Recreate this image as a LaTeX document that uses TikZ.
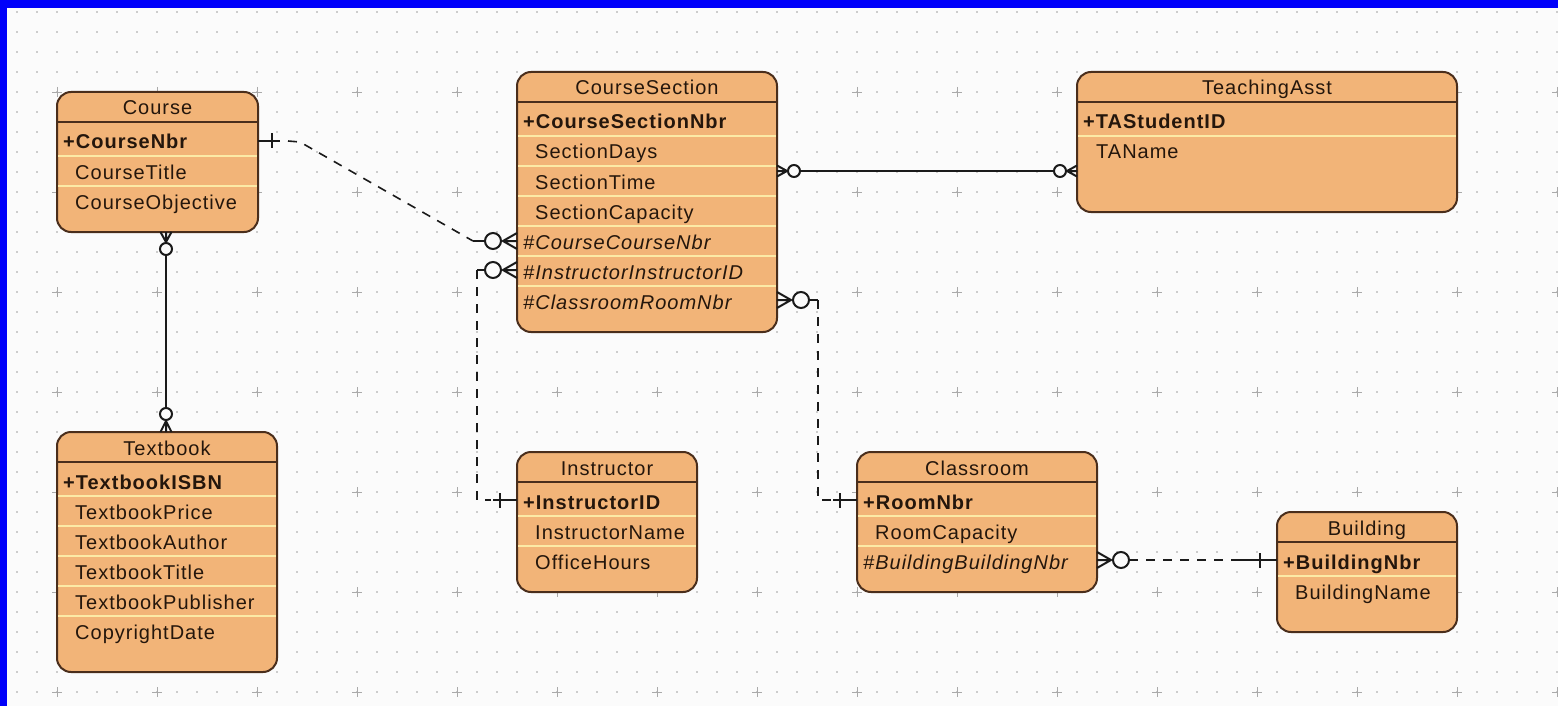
\documentclass[tikz,border=0pt]{standalone}
\usepackage{fontspec}
\setmainfont{Liberation Sans}
\newfontfamily\erfont[LetterSpace=5]{Liberation Sans}
\usetikzlibrary{calc}

\definecolor{efill}{HTML}{F2B478}
\definecolor{ebrd}{HTML}{4A2E1C}
\definecolor{esep}{HTML}{FCEAA6}
\definecolor{etext}{HTML}{24160C}
\definecolor{frameblue}{HTML}{0000FA}
\definecolor{paper}{HTML}{FBFBFB}
\definecolor{gdot}{HTML}{CCCCCC}
\definecolor{gplus}{HTML}{AAAAAA}
\definecolor{lnk}{HTML}{1A1A1A}

% entity box: name, x, y, width, height, title, number of rows
\newcommand\ERentity[7]{%
  \node[entity, minimum width=#4, minimum height=#5] (#1) at (#2,#3) {};
  \foreach \i in {2,...,#7}
    \draw[sepline] ($(#1.north west)+(1,4+30*\i)$) -- ($(#1.north east)+(-1,4+30*\i)$);
  \draw[hdrline] ($(#1.north west)+(0,30)$) -- ($(#1.north east)+(0,30)$);
  \node[ttl] (#1-title) at ($(#1.north)+(0,23)$) {#6};
}
% zero-or-many end: edge point, outward angle, apex distance, half spread, circle distance, radius
\newcommand\ERzm[6]{%
  \begin{scope}[shift={(#1)},rotate=#2]
    \draw[erfoot] (0,#4) -- (#3,0) -- (0,-#4) (0,0) -- (#3,0);
    \draw[erfoot,fill=paper] (#5,0) circle[radius=#6];
  \end{scope}}
% exactly-one end: edge point, outward angle, tick distance
\newcommand\ERone[3]{%
  \begin{scope}[shift={(#1)},rotate=#2]
    \draw[erfoot] (#3,-7.5) -- (#3,7.5);
  \end{scope}}

\begin{document}
\begin{tikzpicture}[x=1pt,y=-1pt,
  entity/.style={draw=ebrd, line width=2pt, fill=efill, rounded corners=14pt,
    inner sep=0pt, outer sep=0pt, anchor=north west},
  hdrline/.style={draw=ebrd, line width=2pt},
  sepline/.style={draw=esep, line width=1.6pt},
  ttl/.style={anchor=base, inner sep=0pt, text=etext,
    font=\erfont\fontsize{20}{24}\selectfont},
  attt/.style={ttl, anchor=base west},
  keyt/.style={ttl, anchor=base west, font=\erfont\bfseries\fontsize{20}{24}\selectfont},
  fkt/.style={ttl, anchor=base west, font=\erfont\itshape\fontsize{20}{24}\selectfont},
  erline/.style={draw=lnk, line width=1.6pt},
  erfoot/.style={draw=lnk, line width=2pt},
  dashc/.style={dash pattern=on 9pt off 8pt},
  gdots/.style={draw=gdot, line width=1.5pt, dash pattern=on 1.5pt off 18.5pt},
  gplusmark/.style={draw=gplus, line width=0.9pt}
]
\useasboundingbox (0,0) rectangle (1558,706);

% canvas: blue frame and dotted grid
\fill[frameblue] (0,0) rectangle (1558,706);
\fill[paper] (7,8) rectangle (1558,706);
\foreach \yy in {12,32,...,702}
  \draw[gdots] (16.25,\yy) -- (1558,\yy);
\foreach \xx in {57,157,...,1557}
  \foreach \yy in {92,192,...,692}
    \draw[gplusmark] (\xx-5,\yy) -- (\xx+5,\yy) (\xx,\yy-5) -- (\xx,\yy+5);

% entities
\ERentity{course}{57}{92}{201}{140}{Course}{3}
\node[keyt] (course-a1) at ($(course.north west)+(6,57)$) {+CourseNbr};
\node[attt] (course-a2) at ($(course.north west)+(18,87)$) {CourseTitle};
\node[attt] (course-a3) at ($(course.north west)+(18,117)$) {CourseObjective};

\ERentity{cs}{517}{72}{260}{260}{CourseSection}{7}
\node[keyt] (cs-a1) at ($(cs.north west)+(6,57)$) {+CourseSectionNbr};
\node[attt] (cs-a2) at ($(cs.north west)+(18,87)$) {SectionDays};
\node[attt] (cs-a3) at ($(cs.north west)+(18,117)$) {SectionTime};
\node[attt] (cs-a4) at ($(cs.north west)+(18,147)$) {SectionCapacity};
\node[fkt] (cs-a5) at ($(cs.north west)+(6,177)$) {\#CourseCourseNbr};
\node[fkt] (cs-a6) at ($(cs.north west)+(6,207)$) {\#InstructorInstructorID};
\node[fkt] (cs-a7) at ($(cs.north west)+(6,237)$) {\#ClassroomRoomNbr};

\ERentity{ta}{1077}{72}{380}{140}{TeachingAsst}{2}
\node[keyt] (ta-a1) at ($(ta.north west)+(6,57)$) {+TAStudentID};
\node[attt] (ta-a2) at ($(ta.north west)+(19,87)$) {TAName};

\ERentity{book}{57}{432}{220}{240}{Textbook}{6}
\node[keyt] (book-a1) at ($(book.north west)+(6,57)$) {+TextbookISBN};
\node[attt] (book-a2) at ($(book.north west)+(18,87)$) {TextbookPrice};
\node[attt] (book-a3) at ($(book.north west)+(18,117)$) {TextbookAuthor};
\node[attt] (book-a4) at ($(book.north west)+(18,147)$) {TextbookTitle};
\node[attt] (book-a5) at ($(book.north west)+(18,177)$) {TextbookPublisher};
\node[attt] (book-a6) at ($(book.north west)+(18,207)$) {CopyrightDate};

\ERentity{instr}{517}{452}{180}{140}{Instructor}{3}
\node[keyt] (instr-a1) at ($(instr.north west)+(6,57)$) {+InstructorID};
\node[attt] (instr-a2) at ($(instr.north west)+(18,87)$) {InstructorName};
\node[attt] (instr-a3) at ($(instr.north west)+(18,117)$) {OfficeHours};

\ERentity{room}{857}{452}{240}{140}{Classroom}{3}
\node[keyt] (room-a1) at ($(room.north west)+(6,57)$) {+RoomNbr};
\node[attt] (room-a2) at ($(room.north west)+(18,87)$) {RoomCapacity};
\node[fkt] (room-a3) at ($(room.north west)+(6,117)$) {\#BuildingBuildingNbr};

\ERentity{bldg}{1277}{512}{180}{120}{Building}{2}
\node[keyt] (bldg-a1) at ($(bldg.north west)+(6,57)$) {+BuildingNbr};
\node[attt] (bldg-a2) at ($(bldg.north west)+(18,87)$) {BuildingName};

% relationship end points on the entity borders
\coordinate (cA) at ($(course.north east)+(0,49)$);
\coordinate (cB) at ($(cs.north west)+(0,169)$);
\coordinate (cC) at ($(cs.north west)+(0,198)$);
\coordinate (cD) at ($(instr.north west)+(0,48)$);
\coordinate (cE) at ($(cs.north east)+(0,228)$);
\coordinate (cF) at ($(room.north west)+(0,48)$);
\coordinate (cG) at ($(cs.north east)+(0,99)$);
\coordinate (cH) at ($(ta.north west)+(0,99)$);
\coordinate (cI) at ($(course.south west)+(109,0)$);
\coordinate (cJ) at ($(book.north west)+(109,0)$);
\coordinate (cK) at ($(room.north east)+(0,108)$);
\coordinate (cL) at ($(bldg.north west)+(0,48)$);

% Course -- CourseSection
\draw[erline] (cA) -- ++(22,0);
\draw[erline,dashc] ($(cA)+(30,0)$) -- ($(cA)+(42,1)$) -- ($(cB)+(-44,0)$);
\draw[erline] ($(cB)+(-44,0)$) -- ($(cB)+(-32,0)$);
\ERone{cA}{0}{14}
\ERzm{cB}{180}{14}{8}{24}{8}

% Instructor -- CourseSection
\ERzm{cC}{180}{14}{8}{24}{8}
\draw[erline] ($(cC)+(-32,0)$) -- ($(cC)+(-40,0)$);
\draw[erline,dashc] ($(cC)+(-40,0)$) |- ($(cD)+(-26,0)$);
\draw[erline] ($(cD)+(-24,0)$) -- (cD);
\ERone{cD}{180}{17}

% CourseSection -- Classroom
\ERzm{cE}{0}{14}{8}{24}{8}
\draw[erline] ($(cE)+(32,0)$) -- ($(cE)+(41,0)$);
\draw[erline,dashc] ($(cE)+(41,0)$) |- ($(cF)+(-26,0)$);
\draw[erline] ($(cF)+(-24,0)$) -- (cF);
\ERone{cF}{180}{17}

% CourseSection -- TeachingAsst
\ERzm{cG}{0}{10}{5.5}{17}{6}
\ERzm{cH}{180}{10}{5.5}{17}{6}
\draw[erline] ($(cG)+(23,0)$) -- ($(cH)+(-23,0)$);

% Course -- Textbook
\ERzm{cI}{-90}{10}{5.5}{17}{6}
\ERzm{cJ}{90}{11}{5.5}{18}{6}
\draw[erline] ($(cI)+(0,23)$) -- ($(cJ)+(0,-24)$);

% Classroom -- Building
\ERzm{cK}{0}{14}{8}{24}{8}
\draw[erline,dashc] ($(cK)+(32,0)$) -- ($(cL)+(-44,0)$);
\draw[erline] ($(cL)+(-44,0)$) -- (cL);
\ERone{cL}{180}{17}
\end{tikzpicture}
\end{document}
